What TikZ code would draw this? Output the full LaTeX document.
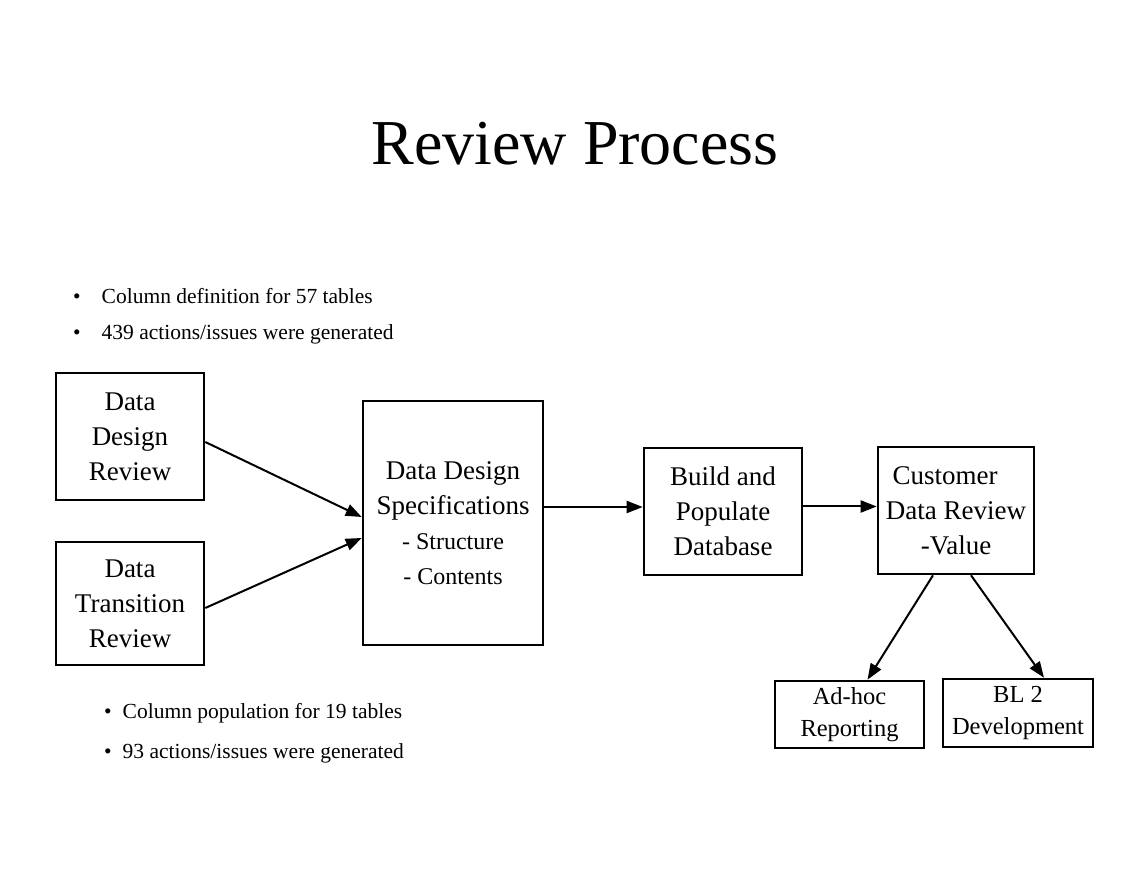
\documentclass[tikz,border=0pt]{standalone}
\usepackage{fontspec}
\setmainfont{Liberation Serif}
\usetikzlibrary{arrows.meta}

\begin{document}
\begin{tikzpicture}[x=1pt, y=-1pt,
        box/.style={draw=black, line width=2.6pt, align=center, inner sep=0pt,
            font=\fontsize{27}{35}\selectfont},
        smallbox/.style={box, font=\fontsize{24.5}{32}\selectfont},
        flow/.style={line width=2pt, -{Triangle[length=16pt, width=12pt]}},
        note/.style={anchor=base west, inner sep=0pt, font=\fontsize{21.5}{25}\selectfont}]
    \useasboundingbox (0,0) rectangle (1136,874);
    \node[anchor=base, inner sep=0pt, font=\fontsize{64}{70}\selectfont] (title) at (575,165) {Review Process};
    % notes
    \node[note] (defn) at (73,304) {\textbullet\hspace{21pt}Column definition for 57 tables};
    \node[note] (issuesA) at (73,340) {\textbullet\hspace{21pt}439 actions/issues were generated};
    \node[note] (popn) at (104,718) {\textbullet\hspace{11pt}Column population for 19 tables};
    \node[note] (issuesB) at (104,758) {\textbullet\hspace{11pt}93 actions/issues were generated};
    % boxes
    \node[box, minimum width=148, minimum height=127] (ddr) at (130,436.5) {Data\\Design\\Review};
    \node[box, minimum width=148, minimum height=123] (dtr) at (130,603.5) {Data\\Transition\\Review};
    \node[box, minimum width=180, minimum height=244] (specs) at (453,523)
        {Data Design\\Specifications\\{\fontsize{24}{33}\selectfont - Structure}\\{\fontsize{24}{33}\selectfont - Contents}};
    \node[box, minimum width=158, minimum height=127] (build) at (723,511.5) {Build and\\Populate\\Database};
    \node[box, minimum width=156, minimum height=127] (cust) at (956,510.5) {Customer\hspace*{22pt}\\Data Review\\-Value};
    \node[smallbox, minimum width=149, minimum height=67] (adhoc) at (849.5,714.5) {Ad-hoc\\Reporting};
    \node[smallbox, minimum width=150, minimum height=68] (bl) at (1018,713) {BL 2\\Development};
    % arrows
    \draw[flow] ([yshift=-5.5pt]ddr.east) -- ([yshift=6pt]specs.west);
    \draw[flow] ([yshift=-4.5pt]dtr.east) -- ([yshift=-15pt]specs.west);
    \draw[flow] ([yshift=4.5pt]build.west -| specs.east) -- ([yshift=4.5pt]build.west);
    \draw[flow] ([yshift=5pt]build.east) -- ([yshift=5pt]build.east -| cust.west);
    \draw[flow] ([xshift=-23pt]cust.south) -- ([xshift=18pt]adhoc.north);
    \draw[flow] ([xshift=15pt]cust.south) -- ([xshift=26pt]bl.north);
\end{tikzpicture}
\end{document}
